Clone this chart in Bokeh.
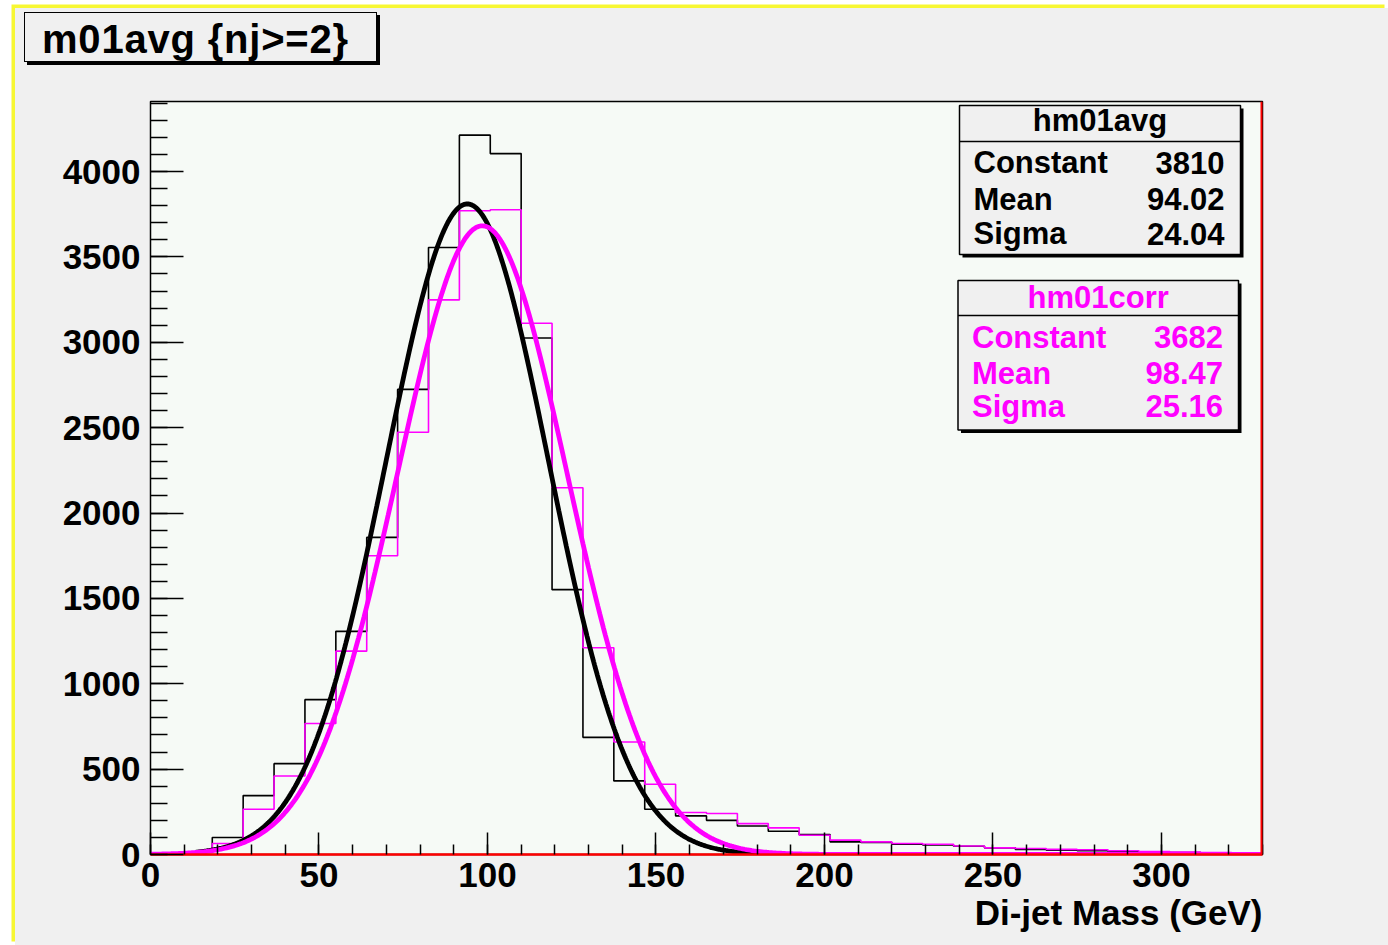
import html
import numpy as np
from bokeh.plotting import figure
from bokeh.layouts import column
from bokeh.models import (Range1d, SingleIntervalTicker, Label, BoxAnnotation, Span,
                          Title, Div)
from bokeh.embed import file_html
from bokeh.resources import INLINE

# ---- histogram definition: 36 bins of di-jet mass between 0 and 330 GeV ----
x_min, x_max, n_bins = 0.0, 330.0, 36
y_max = 4410

# bin contents, hm01avg (black)
avg_counts = [0, 15, 100, 345, 532, 907, 1307, 1857, 2724, 3555,
              4213, 4105, 3025, 1551, 686, 431, 265, 226, 200, 167,
              136, 117, 74, 70, 60, 56, 48, 39, 30, 25,
              22, 18, 14, 11, 9, 7]

# bin contents, hm01corr (magenta)
corr_counts = [0, 12, 64, 265, 460, 767, 1191, 1750, 2473, 3248,
               3770, 3776, 3111, 2148, 1211, 659, 411, 246, 240, 181,
               156, 113, 84, 74, 64, 60, 50, 39, 35, 30,
               28, 22, 18, 15, 12, 10]

# gaussian fit results (Constant, Mean, Sigma) and fit ranges
avg_fit = (3810, 94.02, 24.04)
avg_fit_range = (13.5, 181.0)
corr_fit = (3682, 98.47, 25.16)
corr_fit_range = (0.0, 330.0)

title_text = "m01avg {nj>=2}"
x_title = "Di-jet Mass (GeV)"
stat_names = ["Constant", "Mean", "Sigma"]

BLACK = "black"
MAGENTA = "#ff00ff"
PANEL = "#f0f0f0"
FONT = "Liberation Sans"

# ---- page geometry (pixels, page coordinates) ----
W, H = 1388, 945
OX, OY = 15, 8                      # canvas origin on the page
HEAD = 70                           # page y where the plot canvas begins
FL, FR, FT, FB = 150, 1262, 101, 854  # plot frame


def dx(px):
    return x_min + (px - FL) * (x_max - x_min) / (FR - FL)


def dy(py):
    return (FB - py) * y_max / (FB - FT)


p = figure(width=W - OX, height=H - HEAD, title=None,
           x_range=Range1d(x_min, x_max), y_range=Range1d(0, y_max),
           output_backend="svg", toolbar_location=None,
           min_border_left=FL - OX, min_border_right=W - FR,
           min_border_top=FT - HEAD, min_border_bottom=H - FB,
           background_fill_color="#f6faf6", border_fill_color=PANEL,
           outline_line_color="black", outline_line_width=1.5)
p.xgrid.grid_line_color = None
p.ygrid.grid_line_color = None

p.xaxis.ticker = SingleIntervalTicker(interval=50, num_minor_ticks=5)
p.yaxis.ticker = SingleIntervalTicker(interval=500, num_minor_ticks=5)
for ax in (p.xaxis[0], p.yaxis[0]):
    ax.major_tick_out = 0
    ax.minor_tick_out = 0
    ax.major_tick_line_color = BLACK
    ax.minor_tick_line_color = BLACK
    ax.major_tick_line_width = 1.5
    ax.minor_tick_line_width = 1.5
    ax.major_label_text_font = FONT
    ax.major_label_text_font_style = "bold"
    ax.major_label_text_font_size = "35px"
    ax.major_label_text_color = BLACK
p.xaxis.axis_line_color = "red"
p.xaxis.axis_line_width = 2.5
p.yaxis.axis_line_color = BLACK
p.xaxis.major_tick_in = 22
p.xaxis.minor_tick_in = 10
p.xaxis.major_label_standoff = 8
p.yaxis.major_tick_in = 33
p.yaxis.minor_tick_in = 17
p.yaxis.major_label_standoff = 10

# red right border of the frame
p.add_layout(Span(location=x_max, dimension="height", line_color="red",
                  line_width=4, level="overlay"))

# ---- histograms as step outlines ----
edges = np.linspace(x_min, x_max, n_bins + 1)
p.step(x=edges, y=avg_counts + [avg_counts[-1]], mode="after",
       line_color=BLACK, line_width=1.6)
p.step(x=edges, y=corr_counts + [corr_counts[-1]], mode="after",
       line_color=MAGENTA, line_width=1.6)


# ---- gaussian fit curves ----
def gauss_curve(params, rng):
    c, m, s = params
    xs = np.linspace(rng[0], rng[1], 600)
    return xs, c * np.exp(-0.5 * ((xs - m) / s) ** 2)


gx, gy = gauss_curve(avg_fit, avg_fit_range)
p.line(gx, gy, line_color=BLACK, line_width=4.8)
gx, gy = gauss_curve(corr_fit, corr_fit_range)
p.line(gx, gy, line_color=MAGENTA, line_width=4.8)


# ---- boxes with a drop shadow ----
def framed_box(l, t, r, b, sep=None, shadow=3):
    p.add_layout(BoxAnnotation(left=dx(l + shadow), right=dx(r + shadow),
                               top=dy(t + shadow), bottom=dy(b + shadow),
                               fill_color=BLACK, fill_alpha=1.0, line_color=None))
    p.add_layout(BoxAnnotation(left=dx(l), right=dx(r), top=dy(t), bottom=dy(b),
                               fill_color=PANEL, fill_alpha=1.0,
                               line_color=BLACK, line_width=1.5, line_alpha=1.0))
    if sep is not None:
        p.add_layout(BoxAnnotation(left=dx(l), right=dx(r),
                                   top=dy(sep - 0.8), bottom=dy(sep + 0.8),
                                   fill_color=BLACK, fill_alpha=1.0, line_color=None))


def text(px, py, s, size, color=BLACK, align="left"):
    # py is the text baseline; the label anchor sits at the middle of the capitals
    p.add_layout(Label(x=dx(px), y=dy(py - 0.36 * size), text=s, text_font=FONT,
                       text_font_style="bold", text_font_size=f"{size}px",
                       text_color=color, text_align=align,
                       text_baseline="alphabetic"))


# statistics boxes
def stat_box(name, params, color, l, t, r, b, sep, y_head, y_rows, x_left, x_right):
    framed_box(l, t, r, b, sep=sep, shadow=3)
    text((l + r) / 2, y_head, name, 31, color, "center")
    values = [f"{params[0]:.0f}", f"{params[1]:.2f}", f"{params[2]:.2f}"]
    for label, val, yy in zip(stat_names, values, y_rows):
        text(x_left, yy, label, 31, color, "left")
        text(x_right, yy, val, 31, color, "right")


stat_box("hm01avg", avg_fit, BLACK, 959, 105, 1240, 254, 141,
         131.5, [173.5, 210, 244.5], 973, 1224)
stat_box("hm01corr", corr_fit, MAGENTA, 957.5, 280, 1238, 429.5, 315,
         308, [348, 384, 417], 971.5, 1222.5)

# ---- x axis title, right aligned at the end of the axis ----
p.add_layout(Title(text=x_title, align="right", standoff=2,
                   text_font=FONT, text_font_style="bold", text_font_size="35px",
                   text_color=BLACK), "below")

# ---- histogram title box in the header strip ----
box_style = (
    "display:inline-block; box-sizing:border-box; "
    "margin:3.5px 0 0 8.5px; width:353px; height:50.5px; "
    "border:1.5px solid black; box-shadow:3px 3px 0 black; "
    f"background:{PANEL}; padding:4px 0 0 17.5px; "
    f"font-family:'{FONT}'; font-weight:bold; font-size:40px; line-height:44.5px; "
    "letter-spacing:0.8px; color:black; white-space:nowrap; overflow:visible;"
)
header = Div(text=f'<div style="{box_style}">{html.escape(title_text)}</div>',
             width=W - OX, height=HEAD - OY,
             styles={"background-color": PANEL, "margin": "0", "padding": "0",
                     "overflow": "visible"})

page = column(header, p, spacing=0,
              styles={"margin-left": f"{OX}px", "margin-top": f"{OY}px",
                      "box-shadow": "-3.5px -3.5px 0px 0px #f7f732",
                      "background-color": PANEL})

open("out.html", "w").write(file_html(page, INLINE))
